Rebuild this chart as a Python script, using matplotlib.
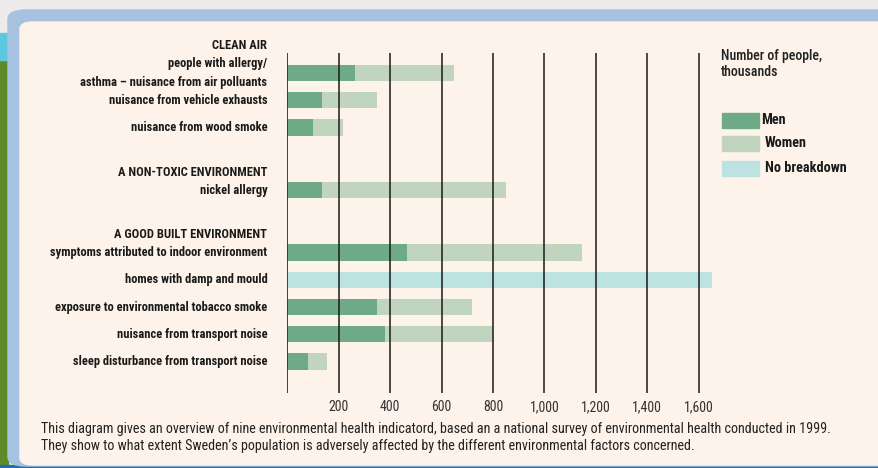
import numpy as np
import matplotlib.pyplot as plt
from matplotlib.patches import FancyBboxPatch, Rectangle

# data (thousands of people)
items = ['people with allergy/\nasthma \u2013 nuisance from air polluants',
         'nuisance from vehicle exhausts',
         'nuisance from wood smoke',
         'nickel allergy',
         'symptoms attributed to indoor environment',
         'homes with damp and mould',
         'exposure to environmental tobacco smoke',
         'nuisance from transport noise',
         'sleep disturbance from transport noise']
men = [265, 135, 100, 135, 465, 0, 350, 380, 80]
women = [385, 215, 115, 715, 680, 0, 370, 420, 75]
no_breakdown = [0, 0, 0, 0, 0, 1650, 0, 0, 0]
headers = ['CLEAN AIR', 'A NON-TOXIC ENVIRONMENT', 'A GOOD BUILT ENVIRONMENT']
xticks = [200, 400, 600, 800, 1000, 1200, 1400, 1600]

c_men = '#6FAA87'
c_women = '#C0D4BE'
c_nob = '#BCE3E1'
cream = '#FDF3EA'
font = ['Roboto Condensed', 'DejaVu Sans']

W, H = 879, 468
fig = plt.figure(figsize=(W / 100, H / 100), dpi=100)
fig.patch.set_facecolor('#EDECEA')

def fx(px):
    return px / W

def fy(py):
    return 1 - py / H

# decorative frame
fig.patches.append(Rectangle((0, 0), fx(8), fy(60), transform=fig.transFigure,
                             color='#5E8A2A', zorder=0))
fig.patches.append(Rectangle((0, fy(60)), fx(8), fy(33) - fy(60), transform=fig.transFigure,
                             color='#5BC8E0', zorder=0))
fig.patches.append(Rectangle((0, 0), 1, fy(465), transform=fig.transFigure,
                             color='#1D6FB0', zorder=0))
fig.patches.append(FancyBboxPatch((fx(8), fy(466)), fx(900), fy(10) - fy(466),
                                  boxstyle='round,pad=0,rounding_size=0.02',
                                  transform=fig.transFigure, color='#A7C1E0', zorder=1))
fig.patches.append(FancyBboxPatch((fx(20), fy(465)), fx(900), fy(22) - fy(465),
                                  boxstyle='round,pad=0,rounding_size=0.015',
                                  transform=fig.transFigure, color=cream, zorder=2))

# bar rows (layout)
pos = np.array([0, 1, 2, 4.3, 6.6, 7.6, 8.6, 9.6, 10.6])
head_pos = [-1.0, 3.65, 5.95]

x0, x1 = 287.3, 287.3 + 1700 * 0.2571
ax = fig.add_axes([fx(x0), fy(393), fx(x1) - fx(x0), fy(53) - fy(393)])
ax.set_facecolor('none')
ax.set_zorder(3)

ax.barh(pos, men, height=0.6, color=c_men, zorder=2)
ax.barh(pos, women, left=men, height=0.6, color=c_women, zorder=2)
ax.barh(pos, no_breakdown, height=0.6, color=c_nob, zorder=2)

ax.set_xlim(0, 1700)
ax.set_ylim(11.76, -0.735)
for xv in xticks:
    ax.axvline(xv, color='#1a1a1a', lw=1.1, zorder=3)
ax.axvline(0, color='#333333', lw=1.3, zorder=3)

for s in ax.spines.values():
    s.set_visible(False)
ax.set_yticks([])
ax.set_xticks(xticks)
ax.set_xticklabels([f'{v:,}' for v in xticks], family=font, fontsize=10, color='#333333')
ax.tick_params(axis='x', length=0, pad=5)

lx = -20 / (x1 - x0)
for p, lab in zip(pos, items):
    ax.text(lx, p, lab, transform=ax.get_yaxis_transform(), ha='right', va='center',
            family=font, fontweight='bold', fontsize=9, color='#1a1a1a', linespacing=1.55)
for p, lab in zip(head_pos, headers):
    ax.text(lx, p, lab, transform=ax.get_yaxis_transform(), ha='right', va='center',
            family=font, fontweight='bold', fontsize=9, color='#1a1a1a')

# legend
fig.text(fx(721), fy(64), 'Number of people,\nthousands', family=font, fontsize=10,
         fontweight='medium', color='#222222', va='center', linespacing=1.25)
leg = [('Men', c_men, 120, 761), ('Women', c_women, 143, 765), ('No breakdown', c_nob, 168, 765)]
for lab, col, yc, xt in leg:
    fig.patches.append(Rectangle((fx(722), fy(yc + 8)), fx(37), fy(yc - 7) - fy(yc + 8),
                                 transform=fig.transFigure, color=col, zorder=4))
    fig.text(fx(xt), fy(yc), lab, family=font, fontsize=10.3, fontweight='bold',
             color='#1a1a1a', va='center')

# caption
fig.text(fx(41), fy(429), 'This diagram gives an overview of nine environmental health indicatord, '
         'based an a national survey of environmental health conducted in 1999.',
         family=font, fontsize=10.2, color='#222222', va='center')
fig.text(fx(41), fy(446), 'They show to what extent Sweden\u2019s population is adversely affected '
         'by the different environmental factors concerned.',
         family=font, fontsize=10.2, color='#222222', va='center')

fig.savefig('out.png', dpi=100, facecolor=fig.get_facecolor())
